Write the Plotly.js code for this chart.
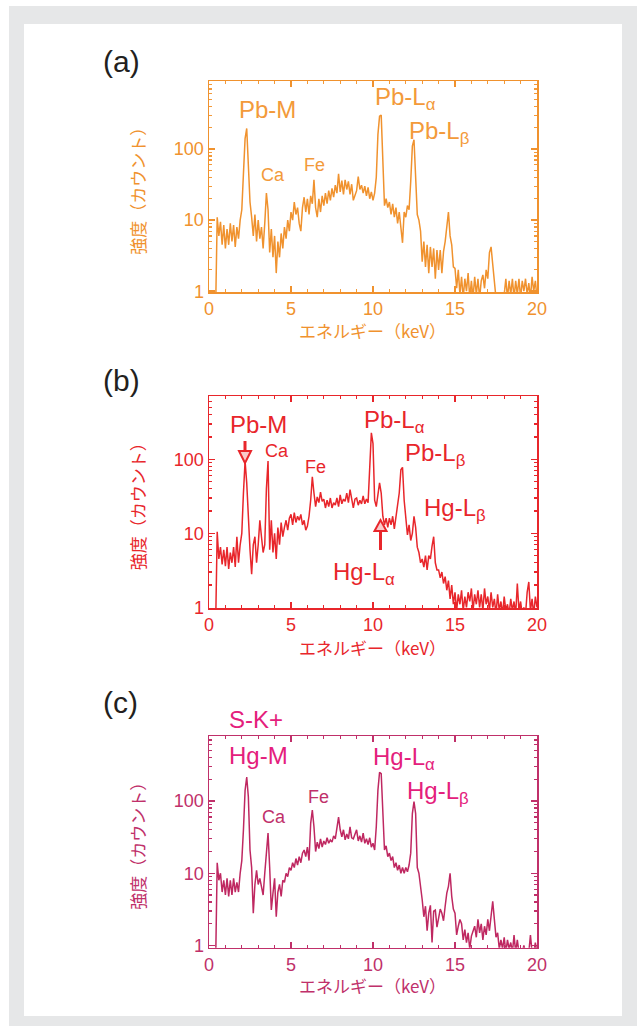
<!DOCTYPE html>
<html><head><meta charset="utf-8">
<script src="https://cdn.plot.ly/plotly-3.0.1.min.js"></script>
<style>html,body{margin:0;padding:0;background:#fff}#chart{width:637px;height:1026px}</style>
</head><body><div id="chart"></div><script>
// ---- data (channel energy grid: start + step, keV) ----
const energyStart = 0.0;
const energyStep = 0.1;

// (a) counts
const countsA = [
 0.5,0.5,0.5,0.5,0.5,11,6,9.5,4.5,8.5,
 4,7.5,4.5,9,5,8.5,4.2,8,5.5,10,
 14,45,140,195,60,18,11,6,12,5,
 10,5.5,8,4,9,24,14,3.5,7.5,3,
 6,1.8,5,3,6.5,4,8,5.5,10,7,
 13,10,18,12,15,9,7,15,21,13,
 20,12,22,17,37,15,11,20,13,22,
 16,24,17,26,19,28,21,31,24,45,
 25,36,23,37,27,35,23,32,19,22,
 26,41,27,31,24,30,22,29,20,25,
 19,24,40,160,290,300,70,16,20,15,
 18,12,17,11,15,9,13,8,4.8,13,
 11,16,14,35,110,135,35,12,10,7,
 2.6,5,2.2,4.5,1.8,4.2,2.2,4,1.5,3.8,
 2,3.8,1.8,3.6,5,8,13,6,4.5,2.2,
 2.1,1.1,2,0.9,1.6,0.8,1.5,1.0,1.8,0.8,
 1.4,0.8,1.6,0.9,1.5,0.8,1.4,1.7,1.1,2,
 1.5,3.5,4.2,2.4,1.5,0.8,0.8,0.8,0.8,0.8,
 0.9,1.5,0.8,1.4,0.9,1.5,0.8,1.4,0.9,1.5,
 0.8,1.4,1.0,1.5,0.9,1.3,0.8,1.6,1.0,1.4,
 0.8
];
// (b) counts
const countsB = [
 0.5,0.5,0.5,0.5,0.5,10.5,4.5,6.5,3.8,6,
 3.6,6.5,3.3,5.5,4,6.5,3.5,9,4,7,
 10,35,95,48,15,6,2.8,7,9,4,
 7,15,9,5.5,7,40,95,6,15,5.5,
 10,4.5,12,7,14,9,12,15,11,16,
 18,13,19,14,17,15,18,13,15,11,
 12.5,17,28,58,35,23,31,26,36,27,
 29,22,28,23,30,22,26,24,30,23,
 33,25,29,27,35,26,39,27,22,29,
 30,24,28,25,32,25,29,26,98,228,
 163,28,23,35,48,35,17,13,16,12,
 16,13,17,11.5,17,23,35,72,78,28,
 17,9.5,13,8,10,17,12,6.5,5.5,4,
 4.5,3.5,5,3.2,5,4.5,6.7,9,4,3.2,
 3.2,2.5,3,2.1,2.6,1.7,2.3,1.3,2,1.1,
 1.6,0.9,1.5,1.1,1.7,0.9,1.4,1.0,1.6,1.2,
 1.8,0.9,1.5,1.1,1.7,1.0,1.5,0.9,1.8,1.1,
 1.4,0.9,1.6,1.0,1.3,0.8,1.5,0.9,1.2,0.8,
 1.4,0.9,1.1,0.8,1.3,0.9,1.2,0.8,2.1,0.9,
 1.2,0.8,1.0,0.8,1.6,2.2,0.9,1.3,0.8,1.4,
 1.0
];
// (c) counts
const countsC = [
 0.5,0.5,0.5,0.5,0.5,14,8,10,5.5,8,
 5,8.5,4.8,8,5,8.5,5.5,7.5,5.5,10,
 15,40,140,215,114,21,12,2.8,7,11,
 7,8.5,6.5,5,10,19,36,12,3.1,5.3,
 8.5,2.5,5.5,7,4.8,8,7.5,10,9,12,
 11,14,12,16,13,17,14,19,21,17,
 23,15,49,75,44,20,27,22,30,23,
 28,25,31,26,29,27,33,30,44,60,
 40,32,40,29,35,30,44,31,30,35,
 40,28,33,27,36,26,30,25,31,23,
 26,21,44,141,250,240,67,21,24,17,
 19,15,17,12,14,11,13,10,12,10,
 12,10.5,13,19,67,98,67,12,10,7,
 4.3,2.5,3.5,1.6,2.8,3.6,1.1,3,3.1,1.8,
 2.5,3.2,2.8,2.2,3.5,5.3,6.6,10,4.8,3.2,
 2.8,1.4,1.85,2.3,2,1.2,1.66,1.1,1.5,0.9,
 1.35,1.6,1.85,1.3,2.3,1.5,2,1.2,1.85,1.4,
 2.3,1.6,2.8,4.1,2.3,1.3,1.5,0.9,1.2,0.9,
 1.3,0.8,1.2,0.9,1.1,0.8,1.4,0.8,1.2,0.8,
 0.9,0.8,1.0,0.8,0.8,0.8,1.4,0.8,0.8,1.1,
 0.8
];

const panelLabels = ['(a)','(b)','(c)'];
const xAxisTitle = 'エネルギー（keV）';
const yAxisTitle = '強度（カウント）';
const peakLabelsA = ['Pb-M','Ca','Fe','Pb-L<sub>α</sub>','Pb-L<sub>β</sub>'];
const peakLabelsB = ['Pb-M','Ca','Fe','Pb-L<sub>α</sub>','Pb-L<sub>β</sub>','Hg-L<sub>β</sub>','Hg-L<sub>α</sub>'];
const peakLabelsC = ['S-K+','Hg-M','Ca','Fe','Hg-L<sub>α</sub>','Hg-L<sub>β</sub>'];

// ---- layout / style ----
const W = 637, H = 1026;
const fx = p => p / W, fy = p => 1 - p / H;
const LATIN = 'Liberation Sans, Arial, Helvetica, sans-serif';
const CJK = 'Noto Sans CJK JP, sans-serif';

const panels = [
  {counts: countsA, line: '#f0922e', axis: '#f0922e', label: '#f39a3a', minor: '#f39a3a',
   top: 81.3, bottom: 292.3, yRange: [-0.015, 2.953], xTitleY: 330, yStand: 24, tag: 62,
   peaks: peakLabelsA,
   pos: [[237,109,'left',24,0],[273,175,'center',18,0],[314,165,'center',18,0],[373,99,'left',24,0],[407,132,'left',24,0]]},
  {counts: countsB, line: '#e8262b', axis: '#e8262b', label: '#e8262b', minor: '#e8262b',
   top: 396, bottom: 608.3, yRange: [-0.013, 2.855], xTitleY: 647, yStand: 24, tag: 380,
   peaks: peakLabelsB,
   pos: [[228,424,'left',24,0],[277,451,'center',18,0],[315,467,'center',18,0],[362,421,'left',24,0],[403,455,'left',24,0],[422,509,'left',24,0],[331,573,'left',24,0]]},
  {counts: countsC, line: '#bf2861', axis: '#c0306a', label: '#e4207c', minor: '#c0306a',
   top: 736, bottom: 947.7, yRange: [-0.03, 2.9], xTitleY: 985, yStand: 24, tag: 702,
   peaks: peakLabelsC,
   pos: [[227,719,'left',24,0],[227,755,'left',24,0],[274,817,'center',18,1],[319,797,'center',18,1],[371,758,'left',24,0],[405,792,'left',24,0]]}
];

const data = [];
const layout = {
  width: W, height: H,
  margin: {l: 0, r: 0, t: 0, b: 0},
  paper_bgcolor: '#ffffff', plot_bgcolor: 'rgba(0,0,0,0)',
  showlegend: false,
  annotations: [], shapes: [
    {type: 'rect', xref: 'paper', yref: 'paper', x0: fx(9), x1: 1, y0: 0, y1: fy(6), fillcolor: '#e6e7e8', line: {width: 0}, layer: 'below'},
    {type: 'rect', xref: 'paper', yref: 'paper', x0: fx(24), x1: fx(622), y0: fy(1016), y1: fy(24), fillcolor: '#ffffff', line: {width: 0}, layer: 'below'}
  ]
};

panels.forEach((p, i) => {
  const n = i === 0 ? '' : String(i + 1);
  data.push({type: 'scatter', mode: 'lines', x0: energyStart, dx: energyStep, y: p.counts,
    xaxis: 'x' + n, yaxis: 'y' + n, line: {color: p.line, width: 1.5}, hoverinfo: 'x+y'});
  const tickFont = {family: LATIN, size: 18, color: p.axis};
  layout['xaxis' + n] = {
    domain: [fx(209), fx(537)], anchor: 'y' + n, range: [0, 20],
    tickmode: 'linear', tick0: 0, dtick: 5, ticks: 'inside', ticklen: 6, tickwidth: 1.5, tickcolor: p.axis,
    minor: {tickmode: 'linear', tick0: 0, dtick: 1, ticks: 'inside', ticklen: 3, tickwidth: 1.2, tickcolor: p.minor, showgrid: false},
    showline: true, linecolor: p.axis, linewidth: 1.5, mirror: 'allticks',
    showgrid: false, zeroline: false, tickfont: tickFont
  };
  layout['yaxis' + n] = {
    domain: [fy(p.bottom), fy(p.top)], anchor: 'x' + n, type: 'log', range: p.yRange,
    tickmode: 'linear', tick0: 0, dtick: 1, ticks: 'inside', ticklen: 6, tickwidth: 1.5, tickcolor: p.axis,
    minor: {dtick: 'D1', ticks: 'inside', ticklen: 3, tickwidth: 1.2, tickcolor: p.minor, showgrid: false},
    showline: true, linecolor: p.axis, linewidth: 1.5, mirror: 'allticks',
    showgrid: false, zeroline: false, tickfont: tickFont,
    title: {text: yAxisTitle, font: {family: CJK, size: 17, color: p.axis}, standoff: p.yStand}
  };
  // x-axis title (placed as paper annotation for exact position)
  layout.annotations.push({xref: 'paper', yref: 'paper', x: fx(373), y: fy(p.xTitleY), xanchor: 'center', yanchor: 'middle',
    text: xAxisTitle, showarrow: false, font: {family: CJK, size: 17, color: p.axis}});
  layout.annotations.push({xref: 'paper', yref: 'paper', x: fx(101), y: fy(p.tag), xanchor: 'left', yanchor: 'middle',
    text: panelLabels[i], showarrow: false, font: {family: LATIN, size: 30, color: '#231f20'}});
  p.peaks.forEach((t, k) => {
    const q = p.pos[k];
    layout.annotations.push({xref: 'paper', yref: 'paper', x: fx(q[0]), y: fy(q[1]), xanchor: q[2], yanchor: 'middle',
      text: t, showarrow: false, font: {family: LATIN, size: q[3], color: q[4] ? p.axis : p.label}});
  });
});

// arrows in panel (b)
const red = '#e8262b';
const tri = (pts) => 'M ' + pts.map(q => fx(q[0]) + ',' + fy(q[1])).join(' L ') + ' Z';
layout.shapes.push(
  {type: 'line', xref: 'paper', yref: 'paper', x0: fx(245), x1: fx(245), y0: fy(441), y1: fy(452), line: {color: red, width: 3}},
  {type: 'path', xref: 'paper', yref: 'paper', path: tri([[239,451],[251,451],[245,463]]), fillcolor: 'rgba(232,38,43,0.25)', line: {color: red, width: 2}},
  {type: 'line', xref: 'paper', yref: 'paper', x0: fx(380.5), x1: fx(380.5), y0: fy(531), y1: fy(550), line: {color: red, width: 3}},
  {type: 'path', xref: 'paper', yref: 'paper', path: tri([[374.5,531],[386.5,531],[380.5,520]]), fillcolor: 'rgba(232,38,43,0.25)', line: {color: red, width: 2}}
);

Plotly.newPlot('chart', data, layout, {displayModeBar: false, staticPlot: true});
</script></body></html>
